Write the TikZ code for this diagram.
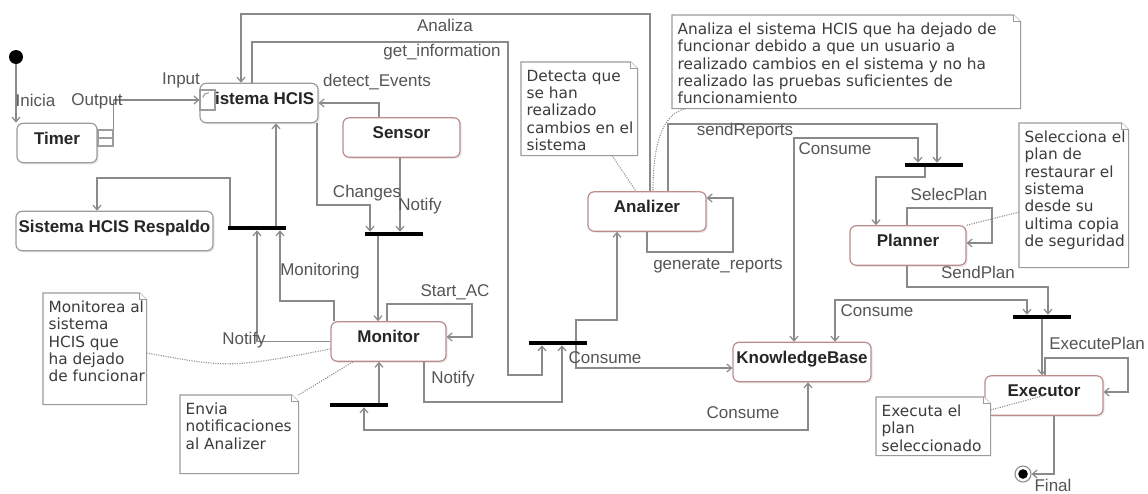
\documentclass[tikz,border=0pt]{standalone}
\usepackage{fontspec}
\setmainfont{Liberation Sans}
\newfontfamily\notefont{DejaVu Sans}
\usetikzlibrary{arrows.meta,shadows}

\definecolor{wire}{HTML}{8A8A8A}
\definecolor{greybox}{HTML}{9C9C9C}
\definecolor{redbox}{HTML}{BC8C8C}
\definecolor{statetext}{HTML}{262626}
\definecolor{labeltext}{HTML}{555555}
\definecolor{notetext}{HTML}{3C3C3C}

% outline of a UML note with a folded top-right corner
\newcommand\dogear[1]{%
  \draw[noteframe] (#1.north west) -- ([xshift=-5pt]#1.north east)
    -- ([yshift=-5pt]#1.north east) -- (#1.south east) -- (#1.south west) -- cycle;
  \draw[noteframe] ([xshift=-5pt]#1.north east) -- ([xshift=-5pt,yshift=-5pt]#1.north east)
    -- ([yshift=-5pt]#1.north east);}

\tikzset{
  wireline/.style={draw=wire, line width=0.9pt},
  arr/.style={wireline, -{Straight Barb[length=3.5pt,width=6pt]}},
  biarr/.style={wireline, {Straight Barb[length=3.5pt,width=6pt]}-{Straight Barb[length=3.5pt,width=6pt]}},
  stbox/.style={rectangle, rounded corners=4.5pt, line width=0.9pt, fill=white,
    inner xsep=0pt, inner ysep=0pt, text height=15.5pt, text depth=14pt,
    font=\fontsize{12.75}{14}\selectfont\bfseries, text=statetext,
    drop shadow={shadow xshift=1.2pt, shadow yshift=-1.2pt, opacity=0.18}},
  plainstate/.style={stbox, draw=greybox},
  agent/.style={stbox, draw=redbox},
  forkbar/.style={rectangle, fill=black, inner sep=0pt, minimum width=43.5pt, minimum height=3pt},
  lbl/.style={font=\fontsize{12.75}{14}\selectfont, text=labeltext, inner sep=0pt,
    text height=9pt, text depth=2.5pt},
  noteframe/.style={draw=greybox, line width=0.8pt, fill=white},
  notebox/.style={rectangle, inner sep=0pt, anchor=north west},
  notebody/.style={anchor=north west, align=left, inner xsep=4pt, inner ysep=5.7pt,
    font=\notefont\fontsize{11.5}{13}\selectfont, text=notetext},
  noteline/.style={draw=wire, line width=0.8pt, densely dotted},
  port/.style={rectangle, draw=greybox, fill=white, line width=0.8pt, inner sep=0pt},
  initdot/.style={circle, fill=black, minimum size=10.5pt, inner sep=0pt},
  finaldot/.style={circle, draw=wire, line width=0.8pt, fill=white, minimum size=12pt, inner sep=0pt,
    path picture={\fill[black] (path picture bounding box.center) circle (3.6pt);}},
}

\begin{document}
\begin{tikzpicture}[x=0.75pt, y=-0.75pt]
\fill[white] (0,0) rectangle (1148,493);
\useasboundingbox (0,0) rectangle (1148,493);

% ---------- states ----------
\node[initdot] (init) at (16,57) {};
\node[plainstate, minimum width=60pt] (timer) at (57,143) {Timer};
\node[plainstate, minimum width=88.5pt] (shcis) at (259,103) {Sistema HCIS};
\node[agent, minimum width=87.75pt] (sensor) at (401.5,137.5) {Sensor};
\node[plainstate, minimum width=147.75pt] (resp) at (114.5,231) {Sistema HCIS Respaldo};
\node[agent, minimum width=86.25pt] (mon) at (388.5,341.5) {Monitor};
\node[agent, minimum width=88.5pt] (ana) at (647,211.5) {Analizer};
\node[agent, minimum width=103.5pt] (kb) at (802,362) {KnowledgeBase};
\node[agent, minimum width=87pt] (plan) at (908,245.5) {Planner};
\node[agent, minimum width=88.5pt] (exe) at (1044,395.5) {Executor};
\node[finaldot] (fin) at (1023,474) {};

% ports on Timer and Sistema HCIS
\node[port, minimum width=11.25pt, minimum height=12pt] (tport) at (105.5,138) {};
\draw[draw=greybox, line width=0.8pt] (tport.west) -- (tport.east);
\node[port, minimum width=11.25pt, minimum height=15pt] (sport) at (207.5,100) {};
\draw[wireline, line width=0.7pt] ([xshift=2.5pt,yshift=-6pt]sport.north west)
  to[out=90,in=180] ([xshift=7pt,yshift=-2.5pt]sport.north west);

% ---------- fork / join bars ----------
\node[forkbar] (bar1) at (393.5,234) {};
\node[forkbar] (bar2) at (557.5,343) {};
\node[forkbar] (bar3) at (934,165) {};
\node[forkbar] (bar4) at (1042,317) {};
\node[forkbar] (bar5) at (257,228) {};
\node[forkbar] (bar6) at (359,405) {};

% ---------- transitions ----------
\draw[arr] (init) -- (16,0 |- timer.north);
\draw[arr] (tport.north east) |- (sport.west);
\draw[arr] (650,0 |- ana.north) |- (241,14) -- (241,0 |- shcis.north);
\draw[arr] (252,0 |- shcis.north) |- (508,42) |- (542,375) -- (542,0 |- bar2.south);
\draw[arr] (379,0 |- sensor.north) |- (shcis.east);
\draw[arr] (400,0 |- sensor.south) -- (400,0 |- bar1.north);
\draw[arr] (317,0 |- shcis.south) |- (370,205) -- (370,0 |- bar1.north);
\draw[arr] (378,0 |- bar1.south) -- (378,0 |- mon.north);
\draw[arr] (387,0 |- mon.north) |- (472,304) |- (mon.east |- 0,337);
\draw[arr] (424,0 |- mon.south) |- (562,402) -- (562,0 |- bar2.south);
\draw[arr] (576,0 |- bar2.north) |- (617,320) -- (617,0 |- ana.south);
\draw[arr] (576,0 |- bar2.south) |- (kb.west |- 0,368);
\draw[arr] (647,0 |- ana.south) |- (733,252) |- (ana.east |- 0,198);
\draw[arr] (668,0 |- ana.north) |- (937,124) -- (937,0 |- bar3.north);
\draw[biarr] (794,0 |- kb.north) |- (918,138) -- (918,0 |- bar3.north);
\draw[arr] (925,0 |- bar3.south) |- (876,177) -- (876,0 |- plan.north);
\draw[arr] (907,0 |- plan.north) |- (992,208) |- (plan.east |- 0,243);
\draw[arr] (907,0 |- plan.south) |- (1048,287) -- (1048,0 |- bar4.north);
\draw[biarr] (835,0 |- kb.north) |- (1027,300) -- (1027,0 |- bar4.north);
\draw[arr] (1042,0 |- bar4.south) -- (1042,0 |- exe.north);
\draw[arr] (1045,0 |- exe.north) |- (1128,358) |- (exe.east |- 0,392);
\draw[arr] (1054,0 |- exe.south) |- (fin.east);
\draw[arr] (230,0 |- bar5.north) |- (97,178) -- (97,0 |- resp.north);
\draw[arr] (276,0 |- bar5.north) -- (276,0 |- shcis.south);
\draw[arr] (mon.west) -| (257,0 |- bar5.south);
\draw[arr] (334,0 |- mon.north) |- (280,301) -- (280,0 |- bar5.south);
\draw[arr] (379,0 |- bar6.north) -- (379,0 |- mon.south);
\draw[biarr] (808,0 |- kb.south) |- (364,430) -- (364,0 |- bar6.south);

% ---------- transition labels ----------
\node[lbl] at (35.5,102) {Inicia};
\node[lbl] at (97,101) {Output};
\node[lbl] at (181,80) {Input};
\node[lbl] at (445,27) {Analiza};
\node[lbl] at (442,52) {get\_information};
\node[lbl] at (377,82) {detect\_Events};
\node[lbl] at (367,193) {Changes};
\node[lbl] at (420,206) {Notify};
\node[lbl] at (320,271) {Monitoring};
\node[lbl] at (455,292) {Start\_AC};
\node[lbl] at (244,340) {Notify};
\node[lbl] at (453,379) {Notify};
\node[lbl] at (605,359) {Consume};
\node[lbl] at (718,265) {generate\_reports};
\node[lbl] at (745,131) {sendReports};
\node[lbl] at (835,150) {Consume};
\node[lbl] at (949,196) {SelecPlan};
\node[lbl] at (978,274) {SendPlan};
\node[lbl] at (877,312) {Consume};
\node[lbl] at (1097,345) {ExecutePlan};
\node[lbl] at (743,414) {Consume};
\node[lbl] at (1053,487) {Final};

% ---------- notes ----------
\node[notebox, minimum width=87pt, minimum height=69.75pt] (n1) at (521,62) {};
\dogear{n1}
\node[notebody] at (n1.north west) {Detecta que\\se han\\realizado\\cambios en el\\sistema};

\node[notebox, minimum width=261pt, minimum height=69.75pt] (n2) at (672,15) {};
\dogear{n2}
\node[notebody] at (n2.north west) {Analiza el sistema HCIS que ha dejado de\\funcionar debido a que un usuario a\\realizado cambios en el sistema y no ha\\realizado las pruebas suficientes de\\funcionamiento};

\node[notebox, minimum width=81.75pt, minimum height=108pt] (n3) at (1019,123) {};
\dogear{n3}
\node[notebody] at (n3.north west) {Selecciona el\\plan de\\restaurar el\\sistema\\desde su\\ultima copia\\de seguridad};

\node[notebox, minimum width=77.25pt, minimum height=83.25pt] (n4) at (43,293) {};
\dogear{n4}
\node[notebody] at (n4.north west) {Monitorea al\\sistema\\HCIS que\\ha dejado\\de funcionar};

\node[notebox, minimum width=88.5pt, minimum height=58.5pt] (n5) at (180,395) {};
\dogear{n5}
\node[notebody] at (n5.north west) {Envia\\notificaciones\\al Analizer};

\node[notebox, minimum width=85.5pt, minimum height=43.5pt] (n6) at (876,397) {};
\dogear{n6}
\node[notebody] at (n6.north west) {Executa el\\plan\\seleccionado};

% note attachments
\draw[noteline] (612,0 |- n1.south) -- (636,0 |- ana.north);
\draw[noteline] (686,0 |- n2.south) .. controls (660,114) and (653,150) .. (653,0 |- ana.north);
\draw[noteline] (n3.west |- 0,212) -- (plan.north east);
\draw[noteline] (n4.east |- 0,353) .. controls (230,368) .. (mon.west |- 0,349);
\draw[noteline] (n5.north east) -- (353,0 |- mon.south);
\draw[noteline] (n6.east |- 0,410) -- (exe.center);
\end{tikzpicture}
\end{document}
